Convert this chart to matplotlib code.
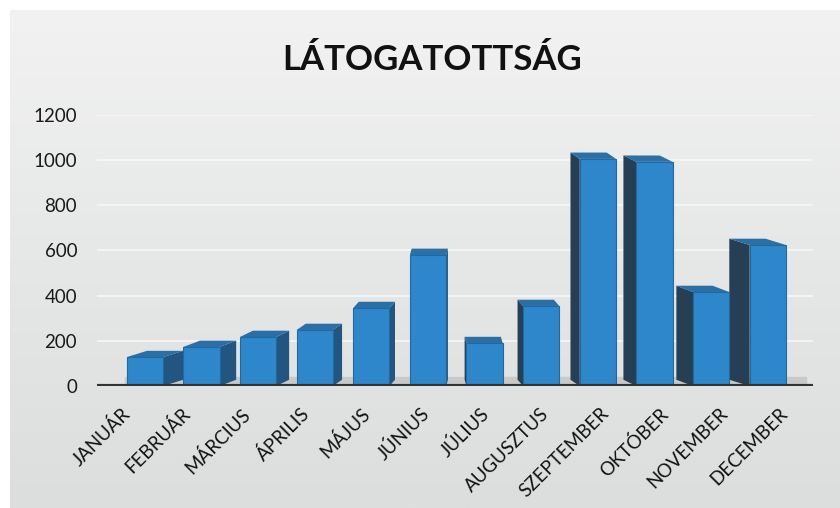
import numpy as np
import matplotlib
matplotlib.use("Agg")
import matplotlib.pyplot as plt
from matplotlib.transforms import ScaledTranslation

# ---------------------------------
# Data
# ---------------------------------
months = ["JANUÁR", "FEBRUÁR", "MÁRCIUS", "ÁPRILIS", "MÁJUS", "JÚNIUS",
          "JÚLIUS", "AUGUSZTUS", "SZEPTEMBER", "OKTÓBER", "NOVEMBER", "DECEMBER"]
visits = [128, 173, 217, 248, 345, 580, 190, 354, 1005, 992, 416, 624]
y_ticks = [0, 200, 400, 600, 800, 1000, 1200]

plt.rcParams['font.family'] = ['Lato', 'DejaVu Sans']

fig = plt.figure(figsize=(8.4, 5.08), dpi=100, facecolor="white")

# ---------------------------------
# Background panel (light gradient)
# ---------------------------------
bg = fig.add_axes([0.012, 0.0, 0.988, 0.98])
grad = np.linspace(0, 1, 256).reshape(-1, 1)
bg.imshow(grad, aspect="auto", cmap=matplotlib.colors.LinearSegmentedColormap.from_list(
    "bgc", ["#f1f2f1", "#e6e8e7", "#dcdedd"]), extent=[0, 1, 0, 1], origin="upper")
bg.axis("off")

ax = fig.add_axes([0.115, 0.240, 0.853, 0.534])
ax.set_facecolor("none")

x = np.arange(len(months))
front_w = 0.64
depth_y = 28
# side face width grows towards the edges (perspective)
side_w = 0.36 * np.abs(x - 5.5) / 5.5

# front faces
ax.bar(x, visits, width=front_w, color="#2e87cb", edgecolor="#1f6aa3",
       linewidth=0.8, zorder=3)

# side and top faces
for xi, v, sw in zip(x, visits, side_w):
    if xi < 6:
        e = xi + front_w / 2
        d = sw
        side_col = "#22557f"
    else:
        e = xi - front_w / 2
        d = -sw
        side_col = "#263f55"
    ax.fill([e, e + d, e + d, e], [0, depth_y, v + depth_y, v],
            color=side_col, zorder=2, linewidth=0)
    ax.fill([xi - front_w / 2, xi + front_w / 2, xi + front_w / 2 + d, xi - front_w / 2 + d],
            [v, v, v + depth_y, v + depth_y], color="#2a6fa5", zorder=2, linewidth=0)

# floor
ax.axhspan(0, 40, xmin=0.04, xmax=0.99, color="#c8caca", zorder=1)
ax.axhline(0, color="#333333", linewidth=3, zorder=4)

ax.set_ylim(0, 1200)
ax.set_xlim(-0.85, 11.8)
ax.set_yticks(y_ticks)
ax.set_yticklabels([str(v) for v in y_ticks], fontsize=13.5, color="#1a1a1a")
ax.set_xticks([])
ax.tick_params(axis="both", length=0)
ax.tick_params(axis="y", pad=14)

# month labels, spread a little wider than the bars (perspective)
for i, name in enumerate(months):
    dx = (-17 + 34 * i / 11) / 100
    tr = ax.get_xaxis_transform() + ScaledTranslation(dx, -0.25, fig.dpi_scale_trans)
    ax.text(i, 0, name, transform=tr, rotation=45, ha="right", va="center",
            rotation_mode="anchor", fontsize=13.5, color="#111111")

ax.grid(axis="y", color="#f7f7f7", linewidth=1.2, zorder=0)
ax.set_axisbelow(True)
for s in ax.spines.values():
    s.set_visible(False)

fig.text(0.514, 0.882, "LÁTOGATOTTSÁG", ha="center", va="center",
         fontsize=25, fontweight="bold", color="#111111")

fig.savefig("out.png", dpi=100, facecolor=fig.get_facecolor())
